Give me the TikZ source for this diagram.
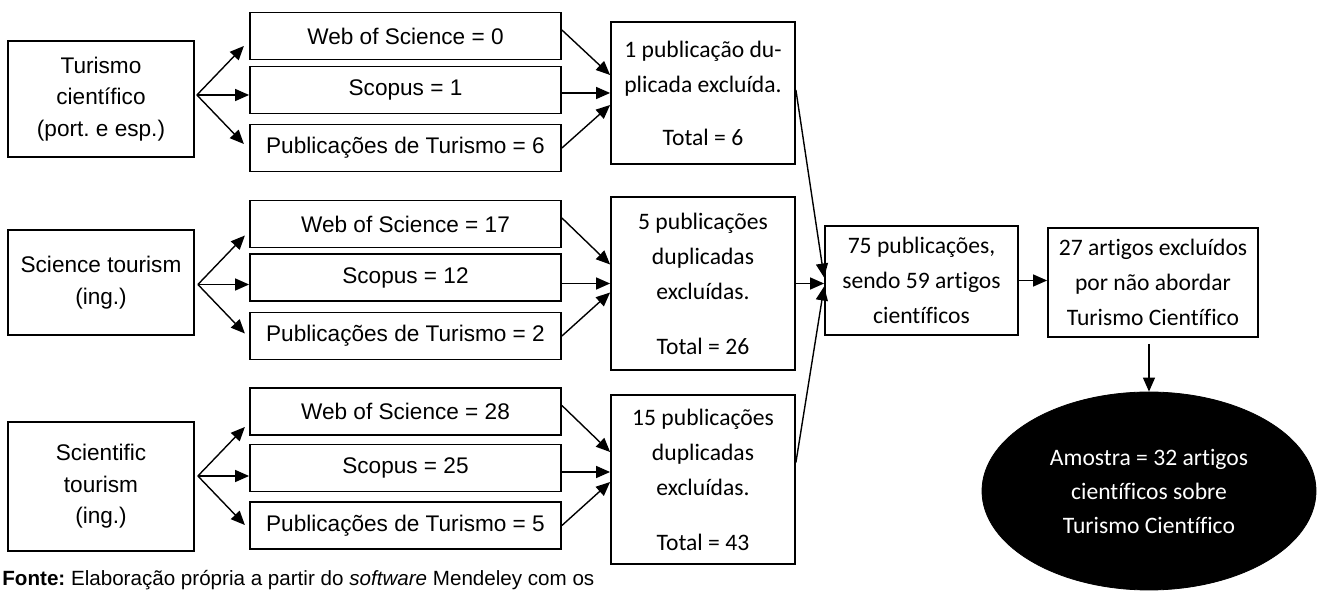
\documentclass[tikz,border=0pt]{standalone}
\usepackage{fontspec}
\newfontfamily\gothicfont{Liberation Sans}
\newfontfamily\calibrifont[Ligatures=NoCommon]{Carlito}
\usetikzlibrary{positioning, arrows.meta, calc, shapes.geometric}
\frenchspacing

\begin{document}
\begin{tikzpicture}[
		x=0.5pt, y=-0.5pt,
		>={Triangle[length=7pt,width=6pt]},
		% Box Styles
		query_box/.style={rectangle, draw=black, line width=0.9pt, minimum width=93pt, inner sep=0pt, align=center, font=\gothicfont\fontsize{11.3}{15.75}\selectfont},
		base_box/.style={rectangle, draw=black, line width=0.9pt, minimum width=155.5pt, minimum height=23.5pt, inner sep=0pt, align=center, font=\gothicfont\fontsize{11.3}{15.75}\selectfont},
		dup_box/.style={rectangle, draw=black, line width=0.9pt, minimum width=92pt, inner sep=0pt, align=center, font=\calibrifont\fontsize{11.8}{17.5}\selectfont},
		result_box/.style={rectangle, draw=black, line width=0.9pt, minimum height=54.5pt, inner sep=0pt, align=center, font=\calibrifont\fontsize{11.8}{17.5}\selectfont},
		sample_ellipse/.style={ellipse, draw=black, fill=black, text=white, minimum width=167pt, minimum height=99pt, inner sep=0pt, align=center, font=\calibrifont\fontsize{11.8}{17}\selectfont},
		footer_text/.style={inner sep=0pt, anchor=base west, font=\gothicfont\fontsize{10.3}{12}\selectfont},
		% Edge Styles
		flow_edge/.style={->, draw=black, line width=0.7pt}
		]
		
		\useasboundingbox (0,0) rectangle (1318,592);
		
		% --- 1. SEARCH TERMS ---
		\node[query_box, minimum height=58pt] (Turismo) at (101,99) {Turismo\\científico\\(port. e esp.)};
		\node[query_box, minimum height=52.5pt] (ScienceT) at (101,282.5) {Science tourism\\(ing.)};
		\node[query_box, minimum height=64.5pt] (ScientificT) at (101,486.5) {Scientific\\tourism\\(ing.)};
		
		% --- 2. DATABASES ---
		\node[base_box] (WoS1) at (405.5,36) {Web of Science = 0};
		\node[base_box] (Scopus1) at (405.5,90) {Scopus = 1};
		\node[base_box] (Pub1) at (405.5,148) {Publicações de Turismo = 6};
		
		\node[base_box] (WoS2) at (405.5,224) {Web of Science = 17};
		\node[base_box] (Scopus2) at (405.5,277.5) {Scopus = 12};
		\node[base_box] (Pub2) at (405.5,336) {Publicações de Turismo = 2};
		
		\node[base_box] (WoS3) at (405.5,411.5) {Web of Science = 28};
		\node[base_box] (Scopus3) at (405.5,468) {Scopus = 25};
		\node[base_box] (Pub3) at (405.5,525.5) {Publicações de Turismo = 5};
		
		% --- 3. DUPLICATES ---
		\node[dup_box, minimum height=71pt] (Dup1) at (703,93) {1 publicação du-\\plicada excluída.\\[9pt]Total = 6};
		\node[dup_box, minimum height=86.5pt] (Dup2) at (703,283.5) {5 publicações\\duplicadas\\excluídas.\\[10pt]Total = 26};
		\node[dup_box, minimum height=84.5pt] (Dup3) at (703,479.5) {15 publicações\\duplicadas\\excluídas.\\[10pt]Total = 43};
		
		% --- 4. RESULT ---
		\node[result_box, minimum width=96.5pt] (Total75) at (921.5,280.5) {75 publicações,\\sendo 59 artigos\\científicos};
		\node[result_box, minimum width=105pt] (Excl27) at (1153,282.5) {27 artigos excluídos\\por não abordar\\Turismo Científico};
		\node[sample_ellipse] (Amostra) at (1149,491) {Amostra = 32 artigos\\científicos sobre\\Turismo Científico};
		
		% ================= ARROWS =================
		
		% --- Search terms to databases ---
		\coordinate (O1) at ($(Scopus1.west -| Turismo.east)+(2,5)$);
		\coordinate (O2) at ($(Scopus2.west -| ScienceT.east)+(3,7)$);
		\coordinate (O3) at ($(Scopus3.west -| ScientificT.east)+(3,8)$);
		
		\draw[flow_edge] (O1) -- ++(47,-49);
		\draw[flow_edge] (O1) -- (O1 -| Scopus1.west);
		\draw[flow_edge] (O1) -- ++(47,49);
		
		\draw[flow_edge] (O2) -- ++(47,-49);
		\draw[flow_edge] (O2) -- (O2 -| Scopus2.west);
		\draw[flow_edge] (O2) -- ++(47,49);
		
		\draw[flow_edge] (O3) -- ++(47,-49);
		\draw[flow_edge] (O3) -- (O3 -| Scopus3.west);
		\draw[flow_edge] (O3) -- ++(47,49);
		
		% --- Databases to duplicates ---
		\draw[flow_edge] ($(WoS1.east)+(0,-6)$) -- ($(Scopus1.east -| Dup1.west)+(0,-15)$);
		\draw[flow_edge] ($(Scopus1.east)+(0,3)$) -- ($(Scopus1.east -| Dup1.west)+(0,3)$);
		\draw[flow_edge] (Pub1.east) -- ($(Scopus1.east -| Dup1.west)+(0,15)$);
		
		\draw[flow_edge] ($(WoS2.east)+(0,-6)$) -- ($(Scopus2.east -| Dup2.west)+(0,-13)$);
		\draw[flow_edge] ($(Scopus2.east)+(0,6)$) -- ($(Scopus2.east -| Dup2.west)+(0,6)$);
		\draw[flow_edge] (Pub2.east) -- ($(Scopus2.east -| Dup2.west)+(0,15)$);
		
		\draw[flow_edge] ($(WoS3.east)+(0,-6)$) -- ($(Scopus3.east -| Dup3.west)+(0,-16)$);
		\draw[flow_edge] ($(Scopus3.east)+(0,4)$) -- ($(Scopus3.east -| Dup3.west)+(0,4)$);
		\draw[flow_edge] (Pub3.east) -- ($(Scopus3.east -| Dup3.west)+(0,14)$);
		
		% --- Duplicates to result ---
		\draw[flow_edge] ($(Dup1.east)+(0,-3)$) -- ($(Total75.west)+(0,-3)$);
		\draw[flow_edge] (Dup2.east) -- (Dup2.east -| Total75.west);
		\draw[flow_edge] ($(Dup3.east)+(0,-17)$) -- ($(Total75.west)+(0,6)$);
		
		\draw[flow_edge] (Total75.east) -- (Total75.east -| Excl27.west);
		\draw[flow_edge, shorten <=3pt] (Excl27.south -| Amostra.north) -- (Amostra.north);
		
		% ================= SOURCE =================
		\node[footer_text] (Fonte) at (2,586) {\textbf{Fonte:} Elaboração própria a partir do \textit{software} Mendeley com os};
		
	\end{tikzpicture}
\end{document}
